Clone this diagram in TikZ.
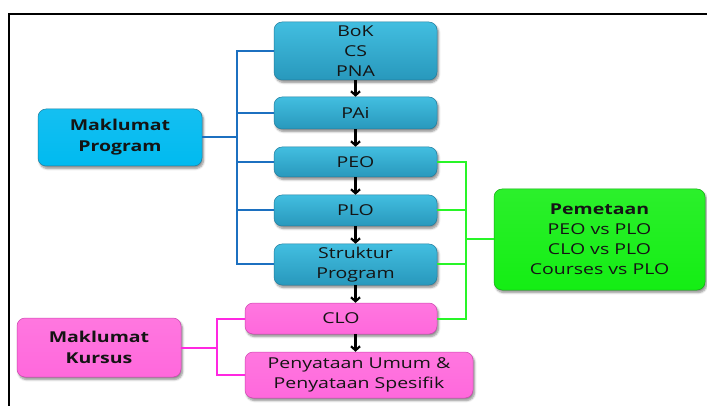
\documentclass[tikz,border=0pt]{standalone}
\usepackage{fontspec}
\setmainfont[FakeStretch=1.3]{Open Sans}
\usetikzlibrary{shadows.blur,arrows.meta}
\definecolor{btop}{RGB}{66,190,224}
\definecolor{bbot}{RGB}{40,152,188}
\definecolor{bedge}{RGB}{34,125,158}
\definecolor{mpfill}{RGB}{0,186,240}
\definecolor{pinkfill}{RGB}{255,104,220}
\definecolor{pinkedge}{RGB}{205,70,175}
\definecolor{greenfill}{RGB}{20,238,20}
\definecolor{greenedge}{RGB}{20,170,20}
\definecolor{blueline}{RGB}{28,112,192}
\definecolor{greenline}{RGB}{40,245,40}
\definecolor{pinkline}{RGB}{255,40,225}
\begin{document}
\begin{tikzpicture}[x=1pt,y=-1pt,
  every node/.style={font=\fontsize{15}{20}\selectfont, align=center, inner sep=0pt, text=black!92},
  basebox/.style={rounded corners=8pt, line width=0.5pt,
    blur shadow={shadow xshift=1.5pt, shadow yshift=-2.5pt, shadow blur steps=6, shadow opacity=45}},
  colbox/.style={basebox, draw=bedge, top color=btop, bottom color=bbot},
  mpbox/.style={basebox, draw=bedge, top color=mpfill!92!white, bottom color=mpfill},
  pinkbox/.style={basebox, draw=pinkedge, top color=pinkfill!90!white, bottom color=pinkfill},
  greenbox/.style={basebox, draw=greenedge, top color=greenfill!90!white, bottom color=greenfill},
  bl/.style={draw=blueline, line width=2pt},
  gl/.style={draw=greenline, line width=2pt},
  pl/.style={draw=pinkline, line width=2pt},
  arr/.style={draw=black, line width=2.2pt, -{Straight Barb[length=4pt,width=9pt,line width=2.2pt]}},
  frame/.style={draw=black, line width=2pt}]
\useasboundingbox (0,0) rectangle (707,406);
% frame
\coordinate (ftl) at (9,14);
\coordinate (ftr) at (707,14);
\coordinate (fbl) at (9,406);
\draw[frame] (ftr) -- (ftl) -- (fbl);
% central column
\node[colbox, minimum width=163pt, minimum height=58pt] (bok) at (355.5,51) {BoK\\CS\\PNA};
\node[colbox, minimum width=163pt, minimum height=32pt] (pai) at (355.5,113) {PAi};
\node[colbox, minimum width=163pt, minimum height=30pt] (peo) at (355.5,162) {PEO};
\node[colbox, minimum width=163pt, minimum height=31pt] (plo) at (355.5,210.5) {PLO};
\node[colbox, minimum width=163pt, minimum height=41pt] (str) at (355.5,264.5) {Struktur\\Program};
\node[pinkbox, minimum width=192pt, minimum height=31pt] (clo) at (341,318.5) {CLO};
\node[pinkbox, minimum width=228pt, minimum height=46pt] (pen) at (359,375) {Penyataan Umum \&\\Penyataan Spesifik};
% side boxes
\node[mpbox, minimum width=164pt, minimum height=57pt, font=\fontsize{15}{21}\selectfont\bfseries] (mp) at (120,137.5) {Maklumat\\Program};
\node[pinkbox, minimum width=164pt, minimum height=59pt, font=\fontsize{15}{21}\selectfont\bfseries] (mk) at (99,347.5) {Maklumat\\Kursus};
\node[greenbox, minimum width=211pt, minimum height=101pt] (pem) at (599.5,239.5) {\textbf{Pemetaan}\\PEO vs PLO\\CLO vs PLO\\Courses vs PLO};
% buses
\coordinate (bbus) at (237,0);
\coordinate (gbus) at (466,0);
\coordinate (pbus) at (217,0);
% blue connectors
\draw[bl] (bok.west) -- (bok.west -| bbus) -- (str.west -| bbus) -- (str.west);
\draw[bl] (pai.west) -- (pai.west -| bbus);
\draw[bl] (peo.west) -- (peo.west -| bbus);
\draw[bl] (plo.west) -- (plo.west -| bbus);
\draw[bl] (mp.east) -- (mp.east -| bbus);
% green connectors
\draw[gl] (peo.east) -- (peo.east -| gbus) -- (clo.east -| gbus) -- (clo.east);
\draw[gl] (plo.east) -- (plo.east -| gbus);
\draw[gl] (str.east) -- (str.east -| gbus);
\draw[gl] (pem.west) -- (pem.west -| gbus);
% pink connectors
\draw[pl] (clo.west) -- (clo.west -| pbus) -- (pen.west -| pbus) -- (pen.west);
\draw[pl] (mk.east) -- (mk.east -| pbus);
% arrows
\draw[arr] (bok.south) -- (pai.north);
\draw[arr] (pai.south) -- (peo.north);
\draw[arr] (peo.south) -- (plo.north);
\draw[arr] (plo.south) -- (str.north);
\draw[arr] (str.south) -- (str.south |- clo.north);
\draw[arr] (clo.south -| str.south) -- (str.south |- pen.north);
\end{tikzpicture}
\end{document}
